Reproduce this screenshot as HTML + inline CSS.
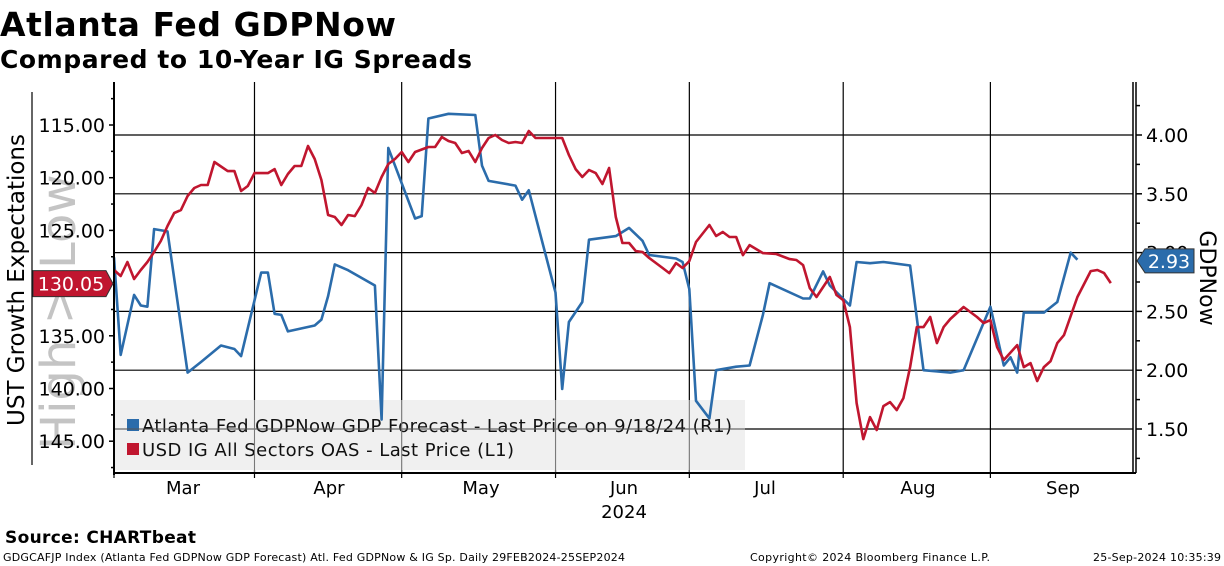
<!DOCTYPE html>
<html><head><meta charset="utf-8"><style>
html,body{margin:0;padding:0;background:#fff;width:1224px;height:566px;overflow:hidden}
svg{display:block;font-family:"DejaVu Sans","Liberation Sans",sans-serif}
</style></head><body>
<svg id="chart" width="1224" height="566" viewBox="0 0 1224 566">
<text x="0" y="36" font-size="33" font-weight="bold" textLength="396">Atlanta Fed GDPNow</text>
<text x="0" y="68" font-size="25" font-weight="bold" textLength="472">Compared to 10-Year IG Spreads</text>
<g id="plot"></g>
<text x="5" y="543" font-size="17" font-weight="bold" textLength="191">Source: CHARTbeat</text>
<text x="3" y="561" font-size="11" textLength="622">GDGCAFJP Index (Atlanta Fed GDPNow GDP Forecast) Atl. Fed GDPNow &amp; IG Sp.  Daily 29FEB2024-25SEP2024</text>
<text x="750" y="561" font-size="11" textLength="240">Copyright© 2024 Bloomberg Finance L.P.</text>
<text x="1093" y="561" font-size="11" textLength="128">25-Sep-2024 10:35:39</text>
</svg>
<script>
// x positions in trading-day index from 29 Feb 2024
const monthLabels = ["Mar","Apr","May","Jun","Jul","Aug","Sep"];
const monthStarts = [0,21,43,66,86,109,131];
const leftTicks = [115,120,125,130,135,140,145];
const rightTicks = [1.5,2.0,2.5,3.0,3.5,4.0];
const blueDays = [0,1,3,4,5,6,8,11,13,16,18,19,22,23,24,25,26,30,31,32,33,35,39,40,41,45,46,47,50,54,55,56,60,61,62,66,67,68,70,71,75,77,79,80,84,85,86,87,89,90,93,95,97,98,103,104,106,107,110,111,113,115,119,121,125,127,131,133,134,135,136,139,141,143,144];
const blueVals = [2.96,2.13,2.64,2.55,2.54,3.20,3.18,1.98,2.07,2.21,2.18,2.12,2.83,2.83,2.48,2.47,2.33,2.38,2.43,2.63,2.90,2.85,2.72,1.58,3.89,3.29,3.31,4.14,4.18,4.17,3.74,3.61,3.57,3.45,3.53,2.66,1.84,2.41,2.58,3.11,3.14,3.21,3.10,2.98,2.95,2.92,2.69,1.74,1.59,2.00,2.03,2.04,2.47,2.74,2.61,2.61,2.84,2.72,2.55,2.92,2.91,2.92,2.89,2.00,1.98,2.00,2.54,2.04,2.11,1.98,2.49,2.49,2.58,3.00,2.94];
const redDays = [0,1,2,3,4,5,6,7,8,9,10,11,12,13,14,15,17,18,19,20,21,23,24,25,26,27,28,29,30,31,32,33,34,35,36,37,38,39,40,41,42,43,44,45,47,48,49,50,51,52,53,54,55,56,57,58,59,60,61,62,63,64,65,67,68,69,70,71,72,73,74,75,76,77,78,79,80,82,83,84,85,86,87,89,90,91,92,93,94,95,97,99,101,102,103,104,105,107,108,109,110,111,112,113,114,115,116,117,118,119,120,121,122,123,124,125,127,129,130,131,132,133,135,136,137,138,139,140,141,142,144,146,147,148,149];
const redVals = [128.76,129.33,128.00,129.61,128.76,128.00,127.05,126.01,124.58,123.35,123.07,121.74,120.98,120.69,120.69,118.51,119.37,119.37,121.26,120.79,119.56,119.56,119.18,120.69,119.65,118.89,118.89,116.99,118.23,120.22,123.54,123.73,124.49,123.54,123.64,122.59,120.98,121.45,119.93,118.70,118.23,117.56,118.51,117.56,117.09,117.09,116.14,116.52,116.71,117.66,117.47,118.51,117.18,116.23,115.95,116.42,116.71,116.61,116.71,115.57,116.23,116.23,116.23,116.23,117.85,119.18,119.93,119.27,119.56,120.60,119.08,123.73,126.20,126.20,126.96,127.05,127.62,128.57,129.05,128.10,128.57,127.91,126.10,124.49,125.53,125.15,125.63,125.63,127.34,126.39,127.15,127.24,127.72,127.81,128.29,130.47,131.32,129.42,131.13,131.61,134.17,141.38,144.80,142.71,143.94,141.67,141.29,142.05,140.91,137.97,134.17,134.17,133.22,135.69,134.17,133.41,132.27,133.22,133.79,133.51,136.07,137.30,135.88,137.97,137.59,139.29,137.97,137.40,135.69,134.93,131.32,128.86,128.76,129.05,130.00];
const blueLast = "2.93", redLast = "130.05";

const NS="http://www.w3.org/2000/svg";
const g=document.getElementById('plot');
const L=114,R=1133,T=82,B=473;
const x=d=>L+d*6.69;
const yR=v=>135+(4-v)*117.6;
const yL=v=>125+(v-115)*52.7/5;
function mk(tag,attrs,parent){const e=document.createElementNS(NS,tag);for(const k in attrs)e.setAttribute(k,attrs[k]);(parent||g).appendChild(e);return e;}

rightTicks.forEach(v=>{
  const l=mk('line',{x1:L,x2:R,y1:yR(v),y2:yR(v),stroke:'#000','stroke-width':1.2});
  
  
});
monthStarts.slice(1).forEach(d=>{
  const l=mk('line',{x1:x(d),x2:x(d),y1:T,y2:B,stroke:'#000','stroke-width':1.2});
  
  
});
const wm=mk('text',{x:0,y:0,'font-size':48,fill:'#c4c4c4',transform:'translate(75,450) rotate(-90)'});
wm.textContent='High > Low';



const lg=mk('g',{});


mk('rect',{x:115,y:400,width:630,height:70,fill:'#ececec','fill-opacity':0.8},lg);
[['#2b6cab','Atlanta Fed GDPNow GDP Forecast - Last Price on 9/18/24 (R1)',432,'legend-entry-gdpnow',590],['#c0162f','USD IG All Sectors OAS - Last Price (L1)',456,'legend-entry-oas',372]].forEach(a=>{
  const e=mk('g',{},lg);
  
  
  mk('rect',{x:127,y:a[2]-13,width:12,height:12,fill:a[0]},e);
  const t=mk('text',{x:142,y:a[2],'font-size':18,fill:'#111',textLength:a[4]},e);t.textContent=a[1];
});
mk('line',{x1:115,x2:745,y1:yR(1.5),y2:yR(1.5),stroke:'#555','stroke-width':1});
monthStarts.slice(1).forEach(d=>{ if(x(d)<745) mk('line',{x1:x(d),x2:x(d),y1:400,y2:B,stroke:'#777','stroke-width':1}); });

const bp=blueDays.map((d,i)=>x(d).toFixed(1)+','+yR(blueVals[i]).toFixed(1)).join(' ');
const bl=mk('polyline',{points:bp,fill:'none',stroke:'#2b6cab','stroke-width':2.6,'stroke-linejoin':'round'});


const rp=redDays.map((d,i)=>x(d).toFixed(1)+','+yL(redVals[i]).toFixed(1)).join(' ');
const rl=mk('polyline',{points:rp,fill:'none',stroke:'#c0162f','stroke-width':2.6,'stroke-linejoin':'round'});



mk('line',{x1:L,x2:L,y1:T,y2:B+2,stroke:'#000','stroke-width':2});
mk('line',{x1:L,x2:R+3,y1:B,y2:B,stroke:'#000','stroke-width':2});
mk('line',{x1:R,x2:R,y1:T,y2:B,stroke:'#000','stroke-width':1.5});
mk('line',{x1:R+3,x2:R+3,y1:T,y2:B,stroke:'#000','stroke-width':1.5});
mk('line',{x1:32,x2:32,y1:92,y2:465,stroke:'#000','stroke-width':1.2});
for(let v=112.5;v<=147.5;v+=2.5){const y=yL(v);if(y<T||y>B)continue;mk('line',{x1:L-(v%5===0?5:3),x2:L,y1:y,y2:y,stroke:'#000','stroke-width':1.5});}
leftTicks.forEach(v=>{
  const t=mk('text',{x:105,y:yL(v)+7,'font-size':19,'text-anchor':'end'});t.textContent=v.toFixed(2);
  
  
});
for(let v=1.25;v<=4.25;v+=0.25){const y=yR(v);mk('line',{x1:R+3,x2:R+(v*2%1===0?9:7),y1:y,y2:y,stroke:'#000','stroke-width':1.5});}
rightTicks.forEach(v=>{
  const t=mk('text',{x:1146,y:yR(v)+7,'font-size':19});t.textContent=v.toFixed(2);
  
  
});
monthStarts.forEach(d=>mk('line',{x1:x(d),x2:x(d),y1:B,y2:B+5,stroke:'#000','stroke-width':1.2}));
const mids=[183,329,481,624,765,918,1063];
monthLabels.forEach((m,i)=>{
  const t=mk('text',{x:mids[i],y:494,'font-size':18,'text-anchor':'middle'});t.textContent=m;
  
  
});
const yr=mk('text',{x:624,y:518,'font-size':18,'text-anchor':'middle'});yr.textContent='2024';



const lt=mk('text',{x:0,y:0,'font-size':23,'text-anchor':'middle',transform:'translate(24,280) rotate(-90)',textLength:292});lt.textContent='UST Growth Expectations';


const rt=mk('text',{x:0,y:0,'font-size':22,'text-anchor':'middle',transform:'translate(1200,278) rotate(90)'});rt.textContent='GDPNow';



const ry=yL(parseFloat(redLast));
mk('path',{d:`M33 ${ry-13} H106 L113 ${ry} L106 ${ry+13} H33 Z`,fill:'#c0162f',stroke:'#333','stroke-width':1});
const rtx=mk('text',{x:71,y:ry+7,'font-size':19,fill:'#fff','text-anchor':'middle'});rtx.textContent=redLast;


const by=yR(parseFloat(blueLast));
mk('path',{d:`M1137 ${by} L1145 ${by-12} H1194 V${by+12} H1145 Z`,fill:'#2b6cab',stroke:'#333','stroke-width':1});
const btx=mk('text',{x:1169,y:by+7,'font-size':19,fill:'#fff','text-anchor':'middle'});btx.textContent=blueLast;


</script>
</body></html>
